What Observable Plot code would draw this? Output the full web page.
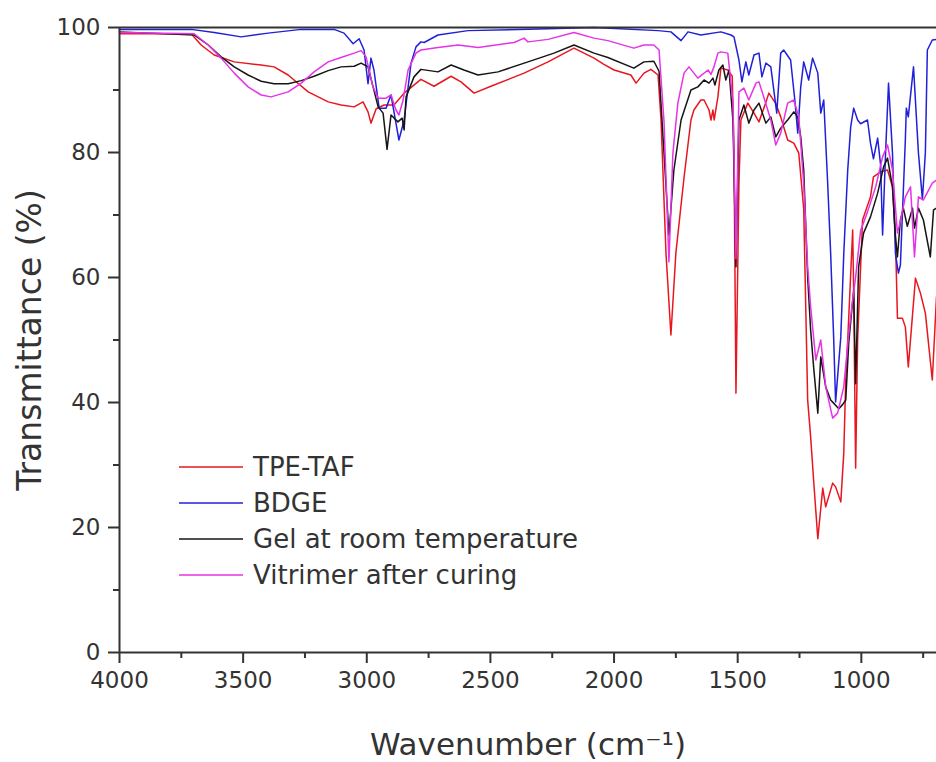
<!DOCTYPE html>
<html>
<head>
<meta charset="utf-8">
<script src="https://cdn.jsdelivr.net/npm/d3@7"></script>
<script src="https://cdn.jsdelivr.net/npm/@observablehq/plot@0.6"></script>
<style>
  html, body { margin: 0; padding: 0; background: #fff; }
</style>
</head>
<body>
<div id="chart"></div>
<script>
// ---- Data: [wavenumber (cm-1), transmittance (%)] ----
const tpeTaf = [
  [4000,99],[3710,99],[3670,97.2],[3617,95.6],[3536,94.5],[3427,94.0],[3375,93.7],[3318,92.4],
  [3237,89.7],[3156,88.1],[3104,87.6],[3051,87.3],[3015,88.1],[2995,86.5],[2983,84.7],[2962,87.0],
  [2930,87.6],[2890,87.6],[2849,89.5],[2781,91.7],[2728,90.6],[2659,92.2],[2619,91.3],[2566,89.5],
  [2498,90.6],[2364,92.7],[2267,94.5],[2162,96.7],[2081,95.1],[2041,94.1],[2000,93.2],[1932,92.4],
  [1911,91.1],[1879,92.7],[1851,93.3],[1822,92.4],[1810,85.2],[1790,63.9],[1770,50.8],[1750,63.9],
  [1717,76],[1689,85.2],[1677,86.8],[1649,88.4],[1636,88.4],[1616,86.8],[1608,85.2],[1600,86.8],
  [1595,85.2],[1580,88.9],[1568,93.5],[1540,93.2],[1522,92.2],[1515,80],[1507,41.5],[1495,75],
  [1487,85.2],[1459,87.9],[1434,86.3],[1414,84.9],[1387,87.9],[1374,89.5],[1347,87.9],[1326,85.7],
  [1298,82.0],[1273,81.5],[1253,79.9],[1233,71],[1217,40.4],[1205,34.5],[1193,27.6],[1176,18.2],
  [1156,26.3],[1144,23.3],[1116,27.1],[1104,26.5],[1083,24.1],[1071,31.9],[1063,43.6],[1055,50],
  [1035,67.6],[1031,58],[1023,29.5],[1015,50],[995,69.2],[963,72.9],[951,76.1],[922,76.9],
  [894,77.2],[874,74.5],[862,66.5],[854,53.5],[834,53.5],[822,52.1],[810,45.7],[781,59.9],
  [761,57.5],[741,54.3],[713,43.6],[696,56.9]
];
const bdge = [
  [4000,99.7],[3710,99.7],[3617,99.2],[3508,98.5],[3399,99.1],[3265,99.7],[3132,99.7],[3092,99.1],
  [3055,97.4],[3031,98.2],[3011,96.4],[2995,91],[2983,95.1],[2971,93.2],[2950,87.1],[2922,87.1],
  [2902,89.2],[2882,84.7],[2870,82.0],[2849,85.2],[2821,94.3],[2801,96.9],[2781,97.7],[2768,97.6],
  [2712,98.8],[2591,99.5],[2267,99.8],[2081,100],[1822,99.5],[1770,99.3],[1729,97.9],[1701,99.3],
  [1649,98.8],[1568,99.3],[1527,98.8],[1515,98.5],[1495,94.8],[1483,91.3],[1467,94.5],[1455,92.4],
  [1434,95.6],[1414,95.9],[1402,92.1],[1386,94.3],[1366,93.7],[1342,86.3],[1326,95.9],[1314,96.4],
  [1286,94.8],[1269,88.4],[1257,83.1],[1245,90.5],[1233,94.5],[1213,91.6],[1197,95.1],[1176,92.7],
  [1164,86.3],[1152,88.4],[1136,75],[1124,63.8],[1112,50.5],[1104,40.1],[1083,50.5],[1071,63.8],
  [1055,77.2],[1043,84.1],[1031,87.1],[1015,85.2],[1003,84.6],[975,85.2],[963,81.5],[951,79],
  [934,82.3],[922,78],[914,66.8],[902,79.9],[890,91.1],[874,79.9],[862,63.8],[850,60.7],
  [842,62],[834,70],[822,82],[818,87.1],[810,85.7],[789,93.7],[769,79.9],[753,72.5],
  [741,80],[733,96.4],[713,98],[696,98.1]
];
const gel = [
  [4000,99.3],[3698,98.8],[3641,97.2],[3589,95.3],[3536,93.7],[3480,92.4],[3427,91.4],[3375,91.0],
  [3318,91.0],[3265,91.5],[3213,92.2],[3156,93.1],[3104,93.7],[3051,93.8],[3023,94.3],[2995,93.7],
  [2954,87.3],[2934,86.3],[2918,80.5],[2902,86.0],[2874,84.9],[2857,85.5],[2849,83.6],[2841,88.9],
  [2809,92.1],[2781,93.3],[2712,92.9],[2659,94.0],[2607,93.2],[2550,92.4],[2469,92.9],[2348,94.5],
  [2243,95.9],[2162,97.2],[2081,95.9],[2025,95.2],[1920,93.5],[1879,94.5],[1839,94.6],[1818,93.0],
  [1798,79.9],[1778,66.8],[1758,77.2],[1729,85.2],[1689,90.0],[1661,90.5],[1636,91.6],[1616,91.1],
  [1600,91.9],[1592,90.8],[1576,93.2],[1560,94.0],[1548,91.6],[1535,93.2],[1519,85],[1507,61.7],
  [1495,85.2],[1475,87.6],[1455,84.7],[1434,86.8],[1414,87.9],[1386,84.7],[1366,85.7],[1346,82.5],
  [1326,83.9],[1298,85.2],[1273,86.5],[1257,85.7],[1245,82.5],[1233,77.2],[1217,60],[1205,51.6],
  [1193,45.7],[1176,38.3],[1164,47.3],[1144,42.5],[1124,40.4],[1112,39.9],[1091,39.0],[1075,39.7],
  [1063,40.4],[1051,49.5],[1031,58],[1023,43.0],[1011,61.7],[991,67.1],[963,69.7],[934,73.5],
  [910,77.7],[894,79.1],[874,74.5],[862,66.5],[854,63.3],[842,69.2],[830,71.1],[814,68.2],
  [793,71.1],[785,67.9],[769,71.1],[749,69.2],[721,63.3],[708,70.8],[696,71.1]
];
const vitrimer = [
  [4000,99.2],[3698,99.0],[3641,97.2],[3589,95.1],[3536,92.7],[3480,90.5],[3427,89.2],[3387,88.9],
  [3318,89.7],[3265,91.1],[3213,92.9],[3156,94.5],[3104,95.2],[3051,95.9],[3023,96.3],[3003,95.3],
  [2975,90.5],[2954,88.7],[2922,88.7],[2902,89.2],[2882,86.8],[2870,86.0],[2853,88.4],[2833,93.2],
  [2801,95.9],[2781,96.4],[2712,96.8],[2631,97.2],[2550,96.8],[2404,97.6],[2364,98.3],[2348,97.7],
  [2267,98.1],[2162,99.2],[2081,98.3],[2025,97.9],[1920,96.7],[1879,97.2],[1839,97.2],[1818,96.4],
  [1798,85],[1778,62.5],[1762,79.9],[1742,87.9],[1717,92.7],[1697,93.7],[1661,91.9],[1620,93.2],
  [1608,92.5],[1596,93.7],[1580,95.9],[1568,96.1],[1540,95.9],[1519,88],[1507,63],[1495,89.7],
  [1475,90.3],[1455,88.4],[1426,91.1],[1414,91.3],[1394,88.8],[1366,85.2],[1346,81.2],[1326,83.1],
  [1298,87.9],[1273,88.4],[1253,85.7],[1233,75],[1217,61.7],[1205,55.3],[1184,46.8],[1164,50],
  [1144,42.5],[1116,37.5],[1096,38.3],[1071,42.5],[1051,51],[1035,56.4],[1023,60.1],[1003,67.5],
  [975,70.5],[942,74.5],[914,79.3],[894,81.2],[874,77.2],[854,67.1],[842,69],[822,72.9],
  [801,74.5],[785,63.3],[769,72.9],[749,72.4],[729,73.9],[713,75.1],[696,75.6]
];

const seriesNames = ["TPE-TAF", "BDGE", "Gel at room temperature", "Vitrimer after curing"];
const seriesData = [tpeTaf, bdge, gel, vitrimer];
const seriesColors = ["#e8161e", "#2020d8", "#151515", "#e633e6"];

const xMajor = [4000, 3500, 3000, 2500, 2000, 1500, 1000];
const xMinor = [3750, 3250, 2750, 2250, 1750, 1250, 750];
const yMajor = [0, 20, 40, 60, 80, 100];
const yMinor = [10, 30, 50, 70, 90];
const xDomain = [4000, 696];
const yDomain = [0, 100];
const xTitle = "Wavenumber (cm⁻¹)";
const yTitle = "Transmittance (%)";

const axisColor = "#333";
const fontFamily = "DejaVu Sans, sans-serif";

const lineMarks = seriesData.map((s, i) =>
  Plot.line(s, {x: d => d[0], y: d => d[1], stroke: seriesColors[i], strokeWidth: 1.5})
);

const chart = Plot.plot({
  width: 936,
  height: 762,
  marginLeft: 119,
  marginRight: 0,
  marginTop: 27,
  marginBottom: 110,
  style: {fontFamily, color: axisColor, background: "#fff"},
  x: {domain: xDomain},
  y: {domain: yDomain},
  marks: [
    ...lineMarks,
    Plot.ruleX([xDomain[0]], {stroke: axisColor, strokeWidth: 2}),
    Plot.ruleY([yDomain[0]], {stroke: axisColor, strokeWidth: 2}),
    Plot.ruleY([yDomain[1]], {stroke: axisColor, strokeWidth: 2}),
    Plot.axisX(xMajor, {tickSize: 11, tickPadding: 8, fontSize: 23, label: null, tickFormat: d => String(d), stroke: axisColor, strokeWidth: 2}),
    Plot.axisX(xMinor, {tickSize: 6, text: null, label: null, stroke: axisColor, strokeWidth: 2}),
    Plot.axisY(yMajor, {tickSize: 11, tickPadding: 8, fontSize: 23, label: null, tickFormat: d => String(d), stroke: axisColor, strokeWidth: 2}),
    Plot.axisY(yMinor, {tickSize: 6, text: null, label: null, stroke: axisColor, strokeWidth: 2}),
    Plot.text([xTitle], {frameAnchor: "bottom", dy: 93, textAnchor: "middle", lineAnchor: "middle", text: d => d, fontSize: 31, fill: axisColor}),
    Plot.text([yTitle], {frameAnchor: "left", dx: -89, rotate: -90, textAnchor: "middle", lineAnchor: "middle", text: d => d, fontSize: 33, fill: axisColor})
  ]
});

// Legend inside the plot area
const svg = d3.select(chart);
const lg = svg.append("g")
  .attr("font-family", fontFamily)
  .attr("font-size", 26)
  .attr("fill", axisColor)
  .attr("text-anchor", "start");
const legendX = 179, legendY = 467, legendStep = 36, legendLen = 64;
seriesNames.forEach((name, i) => {
  const y = legendY + i * legendStep;
  lg.append("line").attr("x1", legendX).attr("x2", legendX + legendLen)
    .attr("y1", y).attr("y2", y).attr("stroke", seriesColors[i]).attr("stroke-width", 1.5);
  lg.append("text").attr("x", legendX + legendLen + 10).attr("y", y)
    .attr("text-anchor", "start")
    .attr("dominant-baseline", "central").text(name);
});

document.getElementById("chart").appendChild(chart);
</script>
</body>
</html>
